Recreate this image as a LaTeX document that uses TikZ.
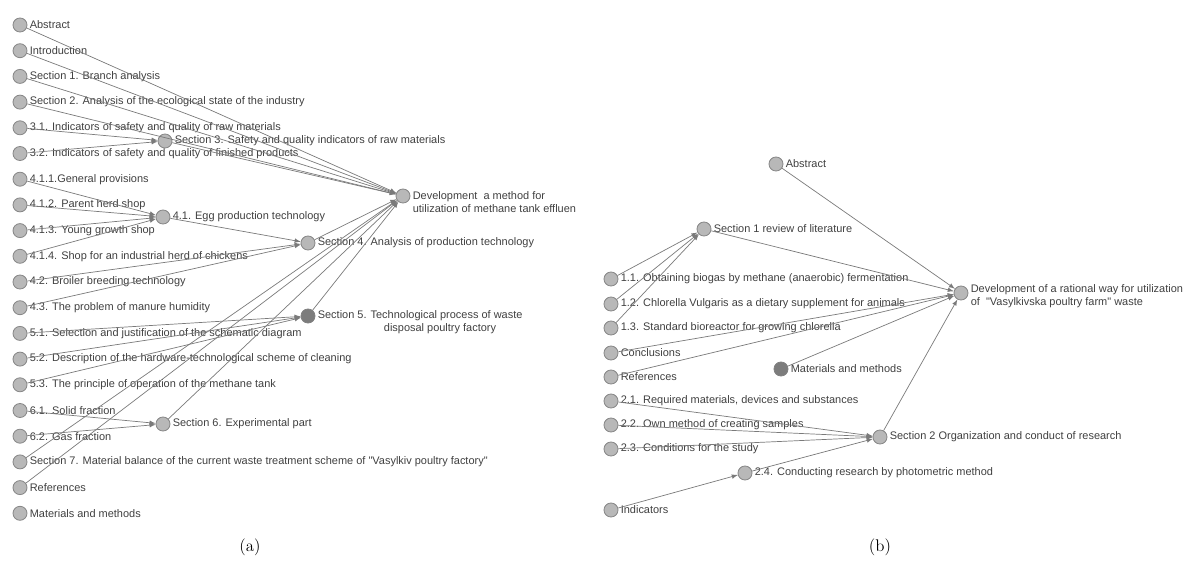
\documentclass[tikz,border=0pt]{standalone}
\usepackage{fontspec}
\newfontfamily\graphfont{Liberation Sans}
\definecolor{txtgray}{HTML}{404040}
\definecolor{dotgray}{HTML}{B8B8B8}
\definecolor{rimgray}{HTML}{888888}
\definecolor{hubgray}{HTML}{7C7C7C}
\definecolor{linegray}{HTML}{7A7A7A}

\begin{document}
\begin{tikzpicture}[x=0.025cm, y=-0.025cm,
	topic/.style={circle, draw=rimgray, fill=dotgray, line width=0.6pt, minimum size=0.35cm, inner sep=0pt},
	hub/.style={topic, fill=hubgray, draw=gray},
	tag/.style={font=\graphfont\fontsize{7.8}{9.4}\selectfont, text=txtgray, align=left, inner sep=1.5pt},
	link/.style={-latex, draw=linegray, line width=0.5pt}]
	\useasboundingbox (0,0) rectangle (1193,561);

	% (a) contents of the first work
	\foreach \n/\t in {1/Abstract, 2/Introduction, 3/Section 1. Branch analysis,
			4/Section 2. Analysis of the ecological state of the industry,
			5/3.1. Indicators of safety and quality of raw materials,
			6/3.2. Indicators of safety and quality of finished products,
			7/4.1.1.General provisions, 8/4.1.2. Parent herd shop, 9/4.1.3. Young growth shop,
			10/4.1.4. Shop for an industrial herd of chickens, 11/4.2. Broiler breeding technology,
			12/4.3. The problem of manure humidity,
			13/5.1. Selection and justification of the schematic diagram,
			14/5.2. Description of the hardware-technological scheme of cleaning,
			15/5.3. The principle of operation of the methane tank,
			16/6.1. Solid fraction, 17/6.2. Gas fraction,
			18/Section 7. Material balance of the current waste treatment scheme of "Vasylkiv poultry factory",
			19/References, 20/Materials and methods}{
		\node[topic, label={[tag]right:\t}] (a\n) at (20,{25+25.7*(\n-1)}) {};
	}

	\node[topic, label={[tag]right:Section 3. Safety and quality indicators of raw materials}] (s3) at (165,141) {};
	\node[topic, label={[tag]right:4.1. Egg production technology}] (s41) at (163,217) {};
	\node[topic, label={[tag]right:Section 4. Analysis of production technology}] (s4) at (308,243) {};
	\node[hub, label={[tag, yshift=-0.16cm]right:{Section 5. Technological process of waste\\\hspace*{47pt}disposal poultry factory}}] (s5) at (308,316) {};
	\node[topic, label={[tag]right:Section 6. Experimental part}] (s6) at (163,424) {};
	\node[topic, label={[tag, yshift=-0.16cm]right:{Development\ \ a method for\\utilization of methane tank effluen}}] (deva) at (403,196) {};

	\foreach \s/\d in {a5/s3, a6/s3, a7/s41, a8/s41, a9/s41, a10/s41,
			s41/s4, a11/s4, a12/s4, a13/s5, a14/s5, a15/s5, a16/s6, a17/s6}{
		\draw[link] (\s) -- (\d);
	}
	\foreach \s in {a1, a2, a3, a4, s3, s4, s5, s6, a18, a19}{
		\draw[link] (\s) -- (deva);
	}

	% (b) contents of the second work
	\foreach \n/\y/\t in {1/279/1.1. Obtaining biogas by methane (anaerobic) fermentation,
			2/304/1.2. Chlorella Vulgaris as a dietary supplement for animals,
			3/328/1.3. Standard bioreactor for growing chlorella,
			4/353/Conclusions, 5/377/References,
			{6/401/2.1. Required materials, devices and substances},
			7/425/2.2. Own method of creating samples,
			8/449/2.3. Conditions for the study, 9/510/Indicators}{
		\node[topic, label={[tag]right:\t}] (b\n) at (611,\y) {};
	}

	\node[topic, label={[tag]right:Abstract}] (babs) at (776,164) {};
	\node[topic, label={[tag]right:Section 1 review of literature}] (bs1) at (704,229) {};
	\node[hub, label={[tag]right:Materials and methods}] (bmm) at (781,369) {};
	\node[topic, label={[tag]right:Section 2 Organization and conduct of research}] (bs2) at (880,437) {};
	\node[topic, label={[tag]right:2.4. Conducting research by photometric method}] (b24) at (745,473) {};
	\node[topic, label={[tag, yshift=-0.08cm]right:{Development of a rational way for utilization\\of\ \ "Vasylkivska poultry farm" waste}}] (devb) at (961,293) {};

	\foreach \s/\d in {b1/bs1, b2/bs1, b3/bs1, b6/bs2, b7/bs2, b8/bs2, b24/bs2, b9/b24}{
		\draw[link] (\s) -- (\d);
	}
	\foreach \s in {babs, bs1, b4, b5, bmm, bs2}{
		\draw[link] (\s) -- (devb);
	}

	% captions
	\node[font=\fontsize{12}{14}\selectfont] (capa) at (250,547) {(a)};
	\node[font=\fontsize{12}{14}\selectfont] (capb) at (880,547) {(b)};
\end{tikzpicture}
\end{document}
